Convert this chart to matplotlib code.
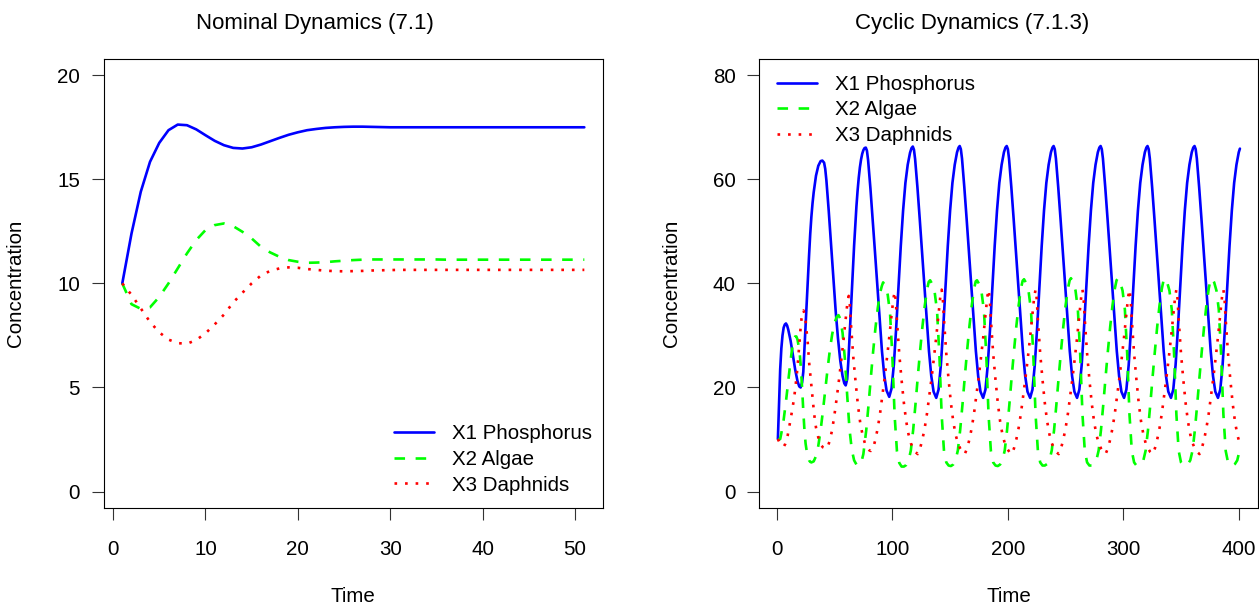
import matplotlib
matplotlib.use("Agg")
import matplotlib.pyplot as plt

plt.rcParams['font.family'] = ['Liberation Sans', 'DejaVu Sans']

# ---------------- Nominal dynamics (left panel) ----------------
nom_time = list(range(1, 52))
nom_x1 = [10.0, 12.4, 14.4, 15.84, 16.75, 17.36, 17.63, 17.6, 17.4, 17.12,
          16.85, 16.64, 16.51, 16.48, 16.54, 16.67, 16.83, 16.99, 17.14, 17.26,
          17.36, 17.42, 17.47, 17.50, 17.52, 17.53, 17.53, 17.52, 17.51, 17.50,
          17.50, 17.50, 17.50, 17.50, 17.50, 17.50, 17.50, 17.50, 17.50, 17.50,
          17.50, 17.50, 17.50, 17.50, 17.50, 17.50, 17.50, 17.50, 17.50, 17.50,
          17.50]
nom_x2 = [10.0, 9.0, 8.78, 8.85, 9.35, 10.0, 10.72, 11.44, 12.08, 12.56,
          12.8, 12.88, 12.75, 12.48, 12.16, 11.76, 11.49, 11.28, 11.12, 11.04,
          10.99, 11.0, 11.02, 11.06, 11.09, 11.12, 11.14, 11.15, 11.15, 11.15,
          11.15, 11.15, 11.15, 11.15, 11.15, 11.14, 11.14, 11.14, 11.14, 11.14,
          11.14, 11.14, 11.14, 11.14, 11.14, 11.14, 11.14, 11.14, 11.14, 11.14,
          11.14]
nom_x3 = [10.0, 9.45, 8.8, 8.15, 7.65, 7.3, 7.13, 7.1, 7.28, 7.6,
          8.03, 8.5, 9.08, 9.55, 10.0, 10.38, 10.6, 10.72, 10.77, 10.75,
          10.69, 10.65, 10.61, 10.59, 10.58, 10.59, 10.6, 10.62, 10.63, 10.64,
          10.65, 10.65, 10.65, 10.65, 10.65, 10.65, 10.65, 10.65, 10.65, 10.65,
          10.65, 10.65, 10.65, 10.65, 10.65, 10.65, 10.65, 10.65, 10.65, 10.65,
          10.65]

# ---------------- Cyclic dynamics (right panel) ----------------
cyc_x1_time = [
    1, 1.5, 2, 2.5, 3, 4, 5, 6, 7, 8, 9, 10, 12, 14, 16, 18, 19.5, 20.7, 22, 23,
    24, 25, 26, 27, 28, 29, 30, 31, 32, 34, 36, 38, 39.5, 41, 42, 43, 45, 47, 49, 51,
    53, 55, 57, 58.5, 59.7, 61, 62, 63, 64, 65, 66, 67, 68, 69, 70, 71, 72, 73, 74, 75, 76,
    77.1, 78.1, 79.1, 81.1, 83.1, 85.1, 87.1, 89.1, 91.1, 93.1, 95.1,
    97.4, 99.4, 101.4, 103.4, 105.4, 107.4, 109.4, 111.4, 113.4, 115.4, 116.7,
    117.8, 118.8, 119.8, 121.8, 123.8, 125.8, 127.8, 129.8, 131.8, 133.8, 135.8,
    138.1, 140.1, 142.1, 144.1, 146.1, 148.1, 150.1, 152.1, 154.1, 156.1, 157.4,
    158.4, 159.4, 160.4, 162.4, 164.4, 166.4, 168.4, 170.4, 172.4, 174.4, 176.4,
    178.7, 180.7, 182.7, 184.7, 186.7, 188.7, 190.7, 192.7, 194.7, 196.7, 198.0,
    199.1, 200.1, 201.1, 203.1, 205.1, 207.1, 209.1, 211.1, 213.1, 215.1, 217.1,
    219.4, 221.4, 223.4, 225.4, 227.4, 229.4, 231.4, 233.4, 235.4, 237.4, 238.7,
    239.7, 240.7, 241.7, 243.7, 245.7, 247.7, 249.7, 251.7, 253.7, 255.7, 257.7,
    260.0, 262.0, 264.0, 266.0, 268.0, 270.0, 272.0, 274.0, 276.0, 278.0, 279.3,
    280.4, 281.4, 282.4, 284.4, 286.4, 288.4, 290.4, 292.4, 294.4, 296.4, 298.4,
    300.7, 302.7, 304.7, 306.7, 308.7, 310.7, 312.7, 314.7, 316.7, 318.7, 320.0,
    321.0, 322.0, 323.0, 325.0, 327.0, 329.0, 331.0, 333.0, 335.0, 337.0, 339.0,
    341.3, 343.3, 345.3, 347.3, 349.3, 351.3, 353.3, 355.3, 357.3, 359.3, 360.6,
    361.7, 362.7, 363.7, 365.7, 367.7, 369.7, 371.7, 373.7, 375.7, 377.7, 379.7,
    382.0, 384.0, 386.0, 388.0, 390.0, 392.0, 394.0, 396.0, 398.0, 400.0, 401.0,
]
cyc_x1 = [
    10.1, 13.5, 16.8, 20.5, 23.5, 27.5, 30.0, 31.5, 32.1, 32.3, 31.9, 31.1, 29.0, 26.2, 23.4, 21.2, 20.2, 20.0, 21.0, 23.0,
    27.5, 31.7, 36.2, 40.8, 45.4, 49.5, 52.8, 55.4, 57.5, 60.7, 62.6, 63.5, 63.6, 63.2, 62.0, 59.8, 54.0, 47.5, 41.0, 34.8,
    29.5, 25.2, 22.2, 20.8, 20.4, 21.6, 25.0, 29.5, 34.0, 38.5, 43.0, 47.3, 51.2, 54.8, 57.8, 60.3, 62.3, 63.8, 64.9, 65.6, 66.0,
    66.1, 65.5, 63.7, 58.3, 52.2, 45.9, 39.6, 33.3, 27.0, 22.3, 19.4,
    18.2, 19.8, 24.4, 31.4, 39.3, 47.2, 54.0, 59.3, 62.8, 65.1, 66.0,
    66.3, 65.7, 63.9, 58.5, 52.4, 46.0, 39.7, 33.3, 27.0, 22.2, 19.2,
    18.0, 19.6, 24.3, 31.3, 39.3, 47.2, 54.0, 59.3, 62.8, 65.2, 66.1,
    66.4, 65.8, 64.0, 58.5, 52.4, 46.0, 39.7, 33.3, 27.0, 22.2, 19.2,
    18.0, 19.6, 24.3, 31.3, 39.3, 47.2, 54.0, 59.3, 62.8, 65.2, 66.1,
    66.4, 65.8, 64.0, 58.5, 52.4, 46.0, 39.7, 33.3, 27.0, 22.2, 19.2,
    18.0, 19.6, 24.3, 31.3, 39.3, 47.2, 54.0, 59.3, 62.8, 65.2, 66.1,
    66.4, 65.8, 64.0, 58.5, 52.4, 46.0, 39.7, 33.3, 27.0, 22.2, 19.2,
    18.0, 19.6, 24.3, 31.3, 39.3, 47.2, 54.0, 59.3, 62.8, 65.2, 66.1,
    66.4, 65.8, 64.0, 58.5, 52.4, 46.0, 39.7, 33.3, 27.0, 22.2, 19.2,
    18.0, 19.6, 24.3, 31.3, 39.3, 47.2, 54.0, 59.3, 62.8, 65.2, 66.1,
    66.4, 65.8, 64.0, 58.5, 52.4, 46.0, 39.7, 33.3, 27.0, 22.2, 19.2,
    18.0, 19.6, 24.3, 31.3, 39.3, 47.2, 54.0, 59.3, 62.8, 65.2, 66.1,
    66.4, 65.8, 64.0, 58.5, 52.4, 46.0, 39.7, 33.3, 27.0, 22.2, 19.2,
    18.0, 19.6, 24.3, 31.3, 39.3, 47.2, 54.0, 59.3, 62.8, 65.2, 65.9,
]

cyc_x2_time = [
    1, 2, 3, 4, 5, 6, 7, 8, 9, 10, 11, 12, 13, 14, 15, 16, 17, 18, 19, 20,
    21, 22, 23, 24, 25, 26, 27, 28, 29, 30, 32, 34, 36, 38, 40, 42, 44, 46, 48, 50,
    52, 53.5, 55, 57, 59, 61, 63, 65, 67, 69, 71, 73, 75, 77.5, 79.5, 81.5, 83.5, 85.5, 87.5, 89.5, 91,
    92.1, 94.1, 96.1, 98.1, 100.1, 102.1, 104.1, 106.1, 108.1, 110.1, 112.1, 114.1, 116.1, 118.1, 120.1, 122.1, 124.1, 126.1, 128.1, 130.1, 131.6,
    132.8, 134.8, 136.8, 138.8, 140.8, 142.8, 144.8, 146.8, 148.8, 150.8, 152.8, 154.8, 156.8, 158.8, 160.8, 162.8, 164.8, 166.8, 168.8, 170.8, 172.3,
    173.4, 175.4, 177.4, 179.4, 181.4, 183.4, 185.4, 187.4, 189.4, 191.4, 193.4, 195.4, 197.4, 199.4, 201.4, 203.4, 205.4, 207.4, 209.4, 211.4, 212.9,
    214.1, 216.1, 218.1, 220.1, 222.1, 224.1, 226.1, 228.1, 230.1, 232.1, 234.1, 236.1, 238.1, 240.1, 242.1, 244.1, 246.1, 248.1, 250.1, 252.1, 253.6,
    254.7, 256.7, 258.7, 260.7, 262.7, 264.7, 266.7, 268.7, 270.7, 272.7, 274.7, 276.7, 278.7, 280.7, 282.7, 284.7, 286.7, 288.7, 290.7, 292.7, 294.2,
    295.4, 297.4, 299.4, 301.4, 303.4, 305.4, 307.4, 309.4, 311.4, 313.4, 315.4, 317.4, 319.4, 321.4, 323.4, 325.4, 327.4, 329.4, 331.4, 333.4, 334.9,
    336.0, 338.0, 340.0, 342.0, 344.0, 346.0, 348.0, 350.0, 352.0, 354.0, 356.0, 358.0, 360.0, 362.0, 364.0, 366.0, 368.0, 370.0, 372.0, 374.0, 375.5,
    376.7, 378.7, 380.7, 382.7, 384.7, 386.7, 388.7, 390.7, 392.7, 394.7, 396.7, 398.7, 400.7, 401.0,
]
cyc_x2 = [
    10.1, 10.0, 10.1, 11.2, 12.6, 13.8, 15.5, 17.3, 19.3, 21.3, 23.3, 25.2, 26.9, 28.3, 29.3, 29.8, 29.8, 29.2, 27.9, 26.3,
    23.5, 19.8, 15.5, 11.8, 9.2, 7.7, 6.6, 6.0, 5.7, 5.6, 5.8, 6.8, 8.8, 11.8, 15.5, 19.5, 23.5, 27.2, 30.2, 32.4,
    33.6, 33.9, 33.2, 30.5, 25.5, 18.5, 12.0, 8.0, 6.0, 5.2, 5.0, 5.4, 7.2, 11.8, 16.7, 22.0, 27.0, 31.5, 35.3, 38.2, 39.5,
    40.2, 39.4, 37.8, 34.3, 26.0, 14.5, 7.7, 5.5, 4.8, 4.8, 5.1, 5.9, 7.9, 11.8, 16.7, 22.0, 27.0, 31.6, 35.6, 38.8, 40.3,
    40.6, 39.8, 38.2, 34.7, 26.3, 14.7, 7.8, 5.6, 5.0, 4.9, 5.2, 6.0, 7.9, 11.8, 16.7, 22.0, 27.0, 31.7, 35.7, 38.9, 40.4,
    40.6, 39.8, 38.2, 34.7, 26.3, 14.7, 7.8, 5.6, 5.0, 4.9, 5.2, 6.0, 7.9, 11.8, 16.7, 22.0, 27.0, 31.7, 35.7, 39.0, 40.5,
    40.8, 40.0, 38.4, 34.9, 26.4, 14.8, 7.8, 5.6, 5.0, 5.0, 5.3, 6.0, 7.9, 11.8, 16.7, 22.0, 27.0, 31.7, 35.8, 39.0, 40.6,
    41.0, 40.2, 38.6, 35.0, 26.5, 14.8, 7.8, 5.6, 5.0, 5.0, 5.3, 6.0, 7.9, 11.8, 16.7, 22.0, 27.0, 31.7, 35.8, 39.0, 40.6,
    41.0, 40.2, 38.6, 35.0, 26.5, 14.8, 7.8, 5.6, 5.0, 5.0, 5.3, 6.0, 7.9, 11.8, 16.7, 22.0, 27.0, 31.7, 35.8, 39.0, 40.6,
    41.0, 40.2, 38.6, 35.0, 26.5, 14.8, 7.8, 5.6, 5.0, 5.0, 5.3, 6.0, 7.9, 11.8, 16.7, 22.0, 27.0, 31.7, 35.8, 39.0, 40.6,
    41.0, 40.2, 38.6, 35.0, 26.5, 14.8, 7.8, 5.6, 5.0, 5.0, 5.3, 6.0, 7.9, 8.4,
]

cyc_x3_time = [
    1, 2, 3, 4, 5, 6.3, 7.5, 8.5, 9.5, 10.5, 11.5, 12.5, 13.5, 14.5, 15.5, 16.5, 17.5, 18.5, 19.5, 20.5,
    21.5, 22.5, 23.2, 24, 25, 26, 27, 28, 29, 30, 31, 32, 33, 34, 36, 38, 40, 42, 43.65, 45.65,
    47.65, 49.65, 51.65, 53.65, 55.65, 57.65, 59.65, 61.15, 62.3, 63.3, 64.3, 66.3, 68.3, 70.3, 72.3,
    74.3, 76.3, 78.3, 80.3, 81.5, 83.45, 85.45, 87.45, 89.45, 91.45, 93.45, 95.45, 97.45, 99.45, 100.95,
    102.1, 103.1, 104.1, 106.1, 108.1, 110.1, 112.1, 114.1, 116.1, 118.1, 120.1, 122.1, 124.1, 126.1, 128.1, 130.1, 132.1, 134.1, 136.1, 138.1, 140.1, 141.6,
    142.8, 143.8, 144.8, 146.8, 148.8, 150.8, 152.8, 154.8, 156.8, 158.8, 160.8, 162.8, 164.8, 166.8, 168.8, 170.8, 172.8, 174.8, 176.8, 178.8, 180.8, 182.3,
    183.4, 184.4, 185.4, 187.4, 189.4, 191.4, 193.4, 195.4, 197.4, 199.4, 201.4, 203.4, 205.4, 207.4, 209.4, 211.4, 213.4, 215.4, 217.4, 219.4, 221.4, 222.9,
    224.1, 225.1, 226.1, 228.1, 230.1, 232.1, 234.1, 236.1, 238.1, 240.1, 242.1, 244.1, 246.1, 248.1, 250.1, 252.1, 254.1, 256.1, 258.1, 260.1, 262.1, 263.6,
    264.7, 265.7, 266.7, 268.7, 270.7, 272.7, 274.7, 276.7, 278.7, 280.7, 282.7, 284.7, 286.7, 288.7, 290.7, 292.7, 294.7, 296.7, 298.7, 300.7, 302.7, 304.2,
    305.4, 306.4, 307.4, 309.4, 311.4, 313.4, 315.4, 317.4, 319.4, 321.4, 323.4, 325.4, 327.4, 329.4, 331.4, 333.4, 335.4, 337.4, 339.4, 341.4, 343.4, 344.9,
    346.0, 347.0, 348.0, 350.0, 352.0, 354.0, 356.0, 358.0, 360.0, 362.0, 364.0, 366.0, 368.0, 370.0, 372.0, 374.0, 376.0, 378.0, 380.0, 382.0, 384.0, 385.5,
    386.7, 387.7, 388.7, 390.7, 392.7, 394.7, 396.7, 398.7, 400.7, 401.0,
]
cyc_x3 = [
    10.1, 9.6, 9.2, 8.9, 8.7, 8.7, 9.2, 9.9, 10.8, 12.0, 13.2, 14.5, 15.8, 17.2, 18.8, 20.7, 22.8, 25.3, 28.2, 31.0,
    33.3, 34.5, 34.8, 34.2, 32.8, 30.4, 28.2, 24.9, 22.6, 20.3, 18.0, 15.8, 13.8, 12.3, 10.4, 9.0, 8.5, 8.3, 8.3, 9.6,
    11.5, 14.2, 17.5, 21.0, 24.8, 28.8, 33.0, 36.2, 37.6, 35.8, 32.0, 25.8, 21.0, 16.6, 13.2,
    10.9, 9.3, 8.4, 7.9, 7.8, 8.3, 10.0, 12.2, 15.0, 18.4, 21.9, 25.7, 29.7, 34.0, 37.0,
    38.4, 36.7, 32.8, 26.4, 21.4, 17.0, 13.5, 11.0, 9.3, 8.3, 7.6, 7.2, 8.3, 10.0, 12.2, 15.0, 18.4, 21.9, 25.7, 29.7, 34.2, 37.4,
    38.8, 37.0, 33.0, 26.5, 21.5, 17.0, 13.5, 11.0, 9.3, 8.3, 7.6, 7.2, 8.3, 10.0, 12.2, 15.0, 18.4, 21.9, 25.7, 29.7, 34.2, 37.4,
    38.8, 37.0, 33.0, 26.5, 21.5, 17.0, 13.5, 11.0, 9.3, 8.3, 7.6, 7.2, 8.3, 10.0, 12.2, 15.0, 18.4, 21.9, 25.7, 29.7, 34.2, 37.4,
    38.8, 37.0, 33.0, 26.5, 21.5, 17.0, 13.5, 11.0, 9.3, 8.3, 7.6, 7.2, 8.3, 10.0, 12.2, 15.0, 18.4, 21.9, 25.7, 29.7, 34.2, 37.4,
    38.8, 37.0, 33.0, 26.5, 21.5, 17.0, 13.5, 11.0, 9.3, 8.3, 7.6, 7.2, 8.3, 10.0, 12.2, 15.0, 18.4, 21.9, 25.7, 29.7, 34.2, 37.4,
    38.8, 37.0, 33.0, 26.5, 21.5, 17.0, 13.5, 11.0, 9.3, 8.3, 7.6, 7.2, 8.3, 10.0, 12.2, 15.0, 18.4, 21.9, 25.7, 29.7, 34.2, 37.4,
    38.8, 37.0, 33.0, 26.5, 21.5, 17.0, 13.5, 11.0, 9.3, 8.3, 7.6, 7.2, 8.3, 10.0, 12.2, 15.0, 18.4, 21.9, 25.7, 29.7, 34.2, 37.4,
    38.8, 37.0, 33.0, 26.5, 21.5, 17.0, 13.5, 11.0, 9.3, 9.2,
]

labels = ["X1 Phosphorus", "X2 Algae", "X3 Daphnids"]
colors = ["#0000FF", "#00FF00", "#FF0000"]
styles = ["-", (0, (4, 4)), (0, (1, 3))]

FS_TICK = 14.75
FS_LAB = 14.75
FS_LEG = 14.75
LW = 1.9

fig = plt.figure(figsize=(12.59, 6.06), dpi=100)
W, H = 1259.0, 606.0


def add_px_axes(x0, y0, x1, y1):
    return fig.add_axes([x0 / W, 1 - y1 / H, (x1 - x0) / W, (y1 - y0) / H])


ax1 = add_px_axes(103.8, 58.6, 602.8, 508.2)
ax2 = add_px_axes(759.4, 58.6, 1258.4, 508.2)

panels = [
    (ax1, [nom_time] * 3, [nom_x1, nom_x2, nom_x3], (-1, 53), (-0.8, 20.8),
     range(0, 51, 10), range(0, 21, 5), "Nominal Dynamics (7.1)", 0.4232,
     (0.5816, 0.1862)),
    (ax2, [cyc_x1_time, cyc_x2_time, cyc_x3_time], [cyc_x1, cyc_x2, cyc_x3],
     (-15, 417), (-3.2, 83.2), range(0, 401, 100), range(0, 81, 20),
     "Cyclic Dynamics (7.1.3)", 0.4258, (0.0352, 0.964)),
]

for ax, xs, ys, xl, yl, xt, yt, title, tx, legpos in panels:
    handles = []
    for x, y, c, s, lab in zip(xs, ys, colors, styles, labels):
        ln, = ax.plot(x, y, color=c, linestyle=s, linewidth=LW, label=lab,
                      solid_capstyle='round', dash_capstyle='butt')
        handles.append(ln)
    ax.set_xlim(*xl)
    ax.set_ylim(*yl)
    ax.set_xticks(list(xt))
    ax.set_yticks(list(yt))
    for sp in ax.spines.values():
        sp.set_linewidth(0.8)
        sp.set_color('black')
    ax.tick_params(axis='both', direction='out', length=8.6, width=0.8,
                   color='#333333', labelsize=FS_TICK)
    ax.tick_params(axis='x', pad=14.0)
    ax.tick_params(axis='y', pad=8.6)
    ax.set_title(title, fontsize=16, x=tx, y=1.077, va='center', pad=0)
    ax.set_xlabel("Time", fontsize=FS_LAB)
    ax.xaxis.set_label_coords(0.5, -0.1953)
    ax.xaxis.label.set_va('center')
    ax.set_ylabel("Concentration", fontsize=FS_LAB)
    ax.yaxis.set_label_coords(-0.176, 0.5)
    ax.yaxis.label.set_va('center')
    ax.legend(handles=handles, loc='upper left', bbox_to_anchor=legpos,
              frameon=False, fontsize=FS_LEG, handlelength=1.95,
              handletextpad=0.88, labelspacing=0.32, borderpad=0,
              borderaxespad=0)

fig.savefig("out.png", dpi=100)
